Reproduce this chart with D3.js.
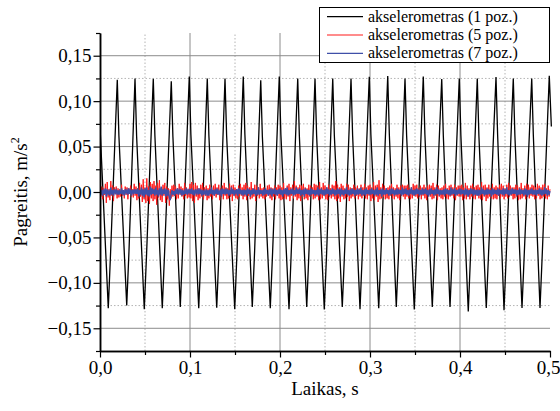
<!DOCTYPE html>
<html>
<head>
<meta charset="utf-8">
<script src="https://cdn.jsdelivr.net/npm/d3@7"></script>
<style>
  body { margin: 0; background: #fff; }
  svg text { font-family: 'Liberation Serif', 'Times New Roman', Times, serif; }
</style>
</head>
<body>
<div id="chart"></div>
<script>
// series names (legend)
var seriesNames = ["akselerometras (1 poz.)", "akselerometras (5 poz.)", "akselerometras (7 poz.)"];
var seriesColors = ["#000000", "#ff1a1a", "#3f4fa8"];

// position 1: [time s, acceleration m/s2] (troughs, knees, peaks, shoulders)
var black = [
  [0.0000, 0.072],
  [0.0092, -0.128], [0.0118, -0.066], [0.0192, 0.1235], [0.0210, 0.062],
  [0.0297, -0.125], [0.0322, -0.065], [0.0389, 0.125], [0.0407, 0.061],
  [0.0492, -0.129], [0.0518, -0.067], [0.0592, 0.1246], [0.0610, 0.062],
  [0.0692, -0.128], [0.0718, -0.066], [0.0792, 0.122], [0.0810, 0.061],
  [0.0892, -0.1265], [0.0917, -0.065], [0.0992, 0.127], [0.1010, 0.063],
  [0.1097, -0.128], [0.1122, -0.066], [0.1192, 0.125], [0.1210, 0.062],
  [0.1297, -0.1275], [0.1322, -0.066], [0.1389, 0.125], [0.1407, 0.062],
  [0.1497, -0.129], [0.1522, -0.067], [0.1592, 0.127], [0.1610, 0.063],
  [0.1692, -0.1265], [0.1718, -0.065], [0.1786, 0.123], [0.1804, 0.061],
  [0.1892, -0.128], [0.1918, -0.066], [0.1992, 0.127], [0.2010, 0.063],
  [0.2100, -0.129], [0.2125, -0.066], [0.2197, 0.125], [0.2215, 0.062],
  [0.2297, -0.1265], [0.2322, -0.065], [0.2389, 0.125], [0.2407, 0.062],
  [0.2492, -0.1294], [0.2518, -0.067], [0.2586, 0.125], [0.2604, 0.062],
  [0.2692, -0.1265], [0.2718, -0.065], [0.2789, 0.125], [0.2807, 0.062],
  [0.2889, -0.129], [0.2915, -0.066], [0.2992, 0.1268], [0.3010, 0.063],
  [0.3097, -0.128], [0.3122, -0.066], [0.3197, 0.1276], [0.3215, 0.063],
  [0.3292, -0.1265], [0.3318, -0.065], [0.3389, 0.125], [0.3407, 0.062],
  [0.3492, -0.1294], [0.3518, -0.067], [0.3592, 0.1272], [0.3610, 0.063],
  [0.3692, -0.1265], [0.3718, -0.065], [0.3797, 0.1243], [0.3815, 0.061],
  [0.3889, -0.1265], [0.3915, -0.065], [0.3992, 0.125], [0.4010, 0.062],
  [0.4092, -0.1316], [0.4118, -0.067], [0.4192, 0.125], [0.4210, 0.062],
  [0.4292, -0.1276], [0.4318, -0.066], [0.4400, 0.1265], [0.4418, 0.063],
  [0.4489, -0.130], [0.4515, -0.067], [0.4592, 0.125], [0.4610, 0.062],
  [0.4689, -0.1276], [0.4715, -0.066], [0.4797, 0.125], [0.4815, 0.062],
  [0.4889, -0.1276], [0.4915, -0.066], [0.4992, 0.128], [0.5015, 0.072]
];

// positions 5 and 7: one sample per ms, values in 10^-3 m/s2
var sampleStep = 0.001;
var red = [
  2,-5,6,-8,4,-3,9,-12,11,-6,3,-9,12,-4,7,-10,5,-2,6,-7,
  4,-6,3,-5,8,-4,2,-7,6,-3,5,-8,4,-2,7,-5,3,-6,9,-4,
  6,-9,4,-7,10,-5,8,-11,14,-8,5,-12,15,-10,6,-13,11,-7,9,-10,
  12,-8,7,-14,10,-6,13,-9,5,-11,8,-4,10,-12,6,-8,4,-15,3,-7,
  7,-5,8,-4,6,-8,4,-7,9,-3,6,-5,4,-8,10,-4,5,-7,3,-6,
  9,-7,11,-10,8,-12,10,-5,7,-9,4,-7,8,-5,10,-8,5,-4,7,-9,
  4,-7,8,-5,3,-8,7,-4,9,-6,5,-3,8,-9,4,-5,7,-8,10,-4,
  5,-8,4,-7,9,-5,7,-10,8,-4,5,-7,3,-8,7,-5,9,-4,5,-8,
  8,-5,10,-9,7,-4,5,-8,11,-7,4,-5,8,-10,7,-4,5,-7,9,-5,
  4,-7,5,-8,3,-5,7,-4,8,-7,5,-9,4,-5,7,-8,5,-4,8,-7,
  7,-9,5,-8,10,-7,4,-8,7,-5,9,-10,5,-4,8,-7,12,-5,7,-9,
  5,-7,8,-10,7,-4,9,-8,5,-7,4,-9,8,-5,7,-4,5,-8,9,-7,
  8,-5,7,-9,11,-8,5,-7,10,-4,7,-8,5,-9,8,-5,4,-7,8,-5,
  7,-8,12,-10,8,-7,5,-11,9,-5,7,-8,4,-7,9,-5,8,-10,5,-7,
  4,-5,8,-7,5,-4,7,-8,4,-5,8,-7,5,-4,9,-7,5,-8,7,-4,
  8,-10,5,-7,11,-9,7,-5,8,-11,13,-8,5,-7,9,-5,7,-8,4,-7,
  5,-8,7,-4,9,-7,5,-8,4,-5,8,-7,5,-9,7,-4,8,-5,7,-8,
  7,-5,8,-7,4,-8,5,-7,9,-4,7,-5,8,-7,4,-5,7,-8,5,-4,
  8,-7,5,-9,7,-4,8,-5,7,-8,10,-7,5,-4,8,-9,7,-5,4,-7,
  5,-8,7,-5,9,-7,4,-8,7,-5,8,-4,5,-7,8,-9,5,-4,7,-5,
  7,-5,8,-9,5,-7,10,-8,7,-5,4,-8,7,-5,9,-7,5,-8,7,-4,
  8,-7,5,-8,11,-9,7,-5,8,-10,5,-7,8,-5,4,-7,9,-8,5,-7,
  7,-8,5,-4,8,-7,9,-5,7,-8,4,-5,8,-7,10,-5,7,-4,5,-8,
  5,-7,8,-5,7,-9,5,-8,10,-7,4,-5,7,-8,9,-5,8,-7,5,-4,
  8,-5,7,-8,5,-7,9,-4,7,-8,5,-7,8,-5,9,-7,4,-8,7,-5,
  3
];
var blue = [
  1,-3,2,-4,3,-2,4,-5,3,-2,1,-4,5,-3,2,-4,3,-1,2,-3,
  2,-3,1,-2,4,-3,2,-4,3,-1,2,-3,4,-2,3,-4,2,-1,3,-2,
  3,-2,4,-5,2,-3,5,-4,3,-6,4,-3,5,-4,2,-5,6,-3,4,-2,
  3,-4,5,-3,2,-5,4,-3,6,-4,3,-2,4,-5,3,-4,2,-6,-9,-3,
  2,-3,1,-4,3,-2,4,-3,2,-1,3,-4,2,-3,1,-2,4,-3,2,-1,
  3,-2,4,-3,2,-4,3,-1,2,-3,4,-2,3,-4,2,-3,1,-2,3,-4,
  2,-4,3,-2,5,-3,2,-4,3,-2,4,-3,1,-2,3,-5,4,-2,3,-3,
  4,-2,3,-4,2,-3,5,-2,3,-4,2,-1,3,-4,4,-2,3,-3,2,-4,
  3,-3,2,-4,4,-2,3,-5,2,-3,4,-2,3,-4,2,-3,5,-3,2,-2,
  2,-4,3,-3,4,-2,2,-4,3,-3,4,-5,3,-2,4,-3,2,-4,3,-2,
  4,-3,2,-5,3,-2,4,-3,5,-4,2,-3,3,-2,4,-4,2,-3,5,-2,
  3,-2,4,-4,2,-3,3,-5,4,-2,3,-3,2,-4,4,-3,3,-2,2,-4,
  2,-3,5,-4,3,-2,4,-3,2,-4,3,-3,5,-2,3,-4,2,-3,4,-2,
  3,-4,2,-3,4,-2,3,-5,4,-3,2,-4,3,-2,5,-3,2,-4,3,-3,
  4,-2,3,-4,2,-3,4,-3,3,-2,5,-4,2,-3,3,-4,4,-2,2,-3,
  3,-3,4,-2,2,-4,3,-3,5,-4,2,-2,3,-5,4,-3,2,-3,4,-2,
  2,-4,3,-3,4,-2,3,-4,2,-3,4,-3,3,-2,2,-4,5,-3,3,-2,
  4,-3,2,-4,3,-2,5,-3,2,-4,3,-3,4,-2,3,-4,2,-3,4,-3,
  3,-2,4,-3,2,-5,3,-3,4,-2,2,-4,3,-3,5,-2,3,-4,2,-3,
  2,-3,3,-4,4,-2,3,-3,2,-4,5,-3,3,-2,4,-4,2,-3,3,-2,
  4,-3,3,-2,2,-4,4,-3,3,-5,2,-3,4,-2,3,-4,3,-3,2,-4,
  3,-4,2,-3,5,-2,3,-4,2,-3,4,-3,3,-2,2,-5,4,-3,3,-2,
  2,-3,4,-4,3,-2,2,-3,4,-4,3,-2,5,-3,2,-4,3,-3,4,-2,
  3,-2,3,-4,2,-3,4,-3,3,-2,2,-4,4,-3,3,-5,2,-3,3,-2,
  4,-3,2,-3,3,-4,2,-2,4,-3,3,-4,2,-3,5,-2,3,-4,2,-3,
  1
];

// axis ticks
var xMajor = [0, 0.1, 0.2, 0.3, 0.4, 0.5];
var xMinor = [0.05, 0.15, 0.25, 0.35, 0.45];
var yMajor = [-0.15, -0.10, -0.05, 0, 0.05, 0.10, 0.15];
var yMinor = [-0.175, -0.125, -0.075, -0.025, 0.025, 0.075, 0.125, 0.175];

var serifFont = "'Liberation Serif', 'Times New Roman', Times, serif";

var w = 560;
var h = 411;
var margin = {top: 33, right: 10, bottom: 60, left: 100};

var svg = d3.select('#chart')
  .append('svg')
    .attr('width', w)
    .attr('height', h)
    .style('display', 'block');

var x = d3.scaleLinear().domain([0, 0.5]).range([margin.left, w - margin.right]);
var y = d3.scaleLinear().domain([-0.175, 0.175]).range([h - margin.bottom, margin.top]);

var lt = d3.formatLocale({decimal: ",", thousands: " ", grouping: [3], currency: ["", ""], minus: "\u2212"});
var fx = lt.format(".1f");
var fy = lt.format(".2f");

// grid: minor dotted first, then major solid
var grid = svg.append('g').attr('class', 'grid');
grid.selectAll('.gx-minor').data(xMinor).enter().append('line')
  .attr('x1', d => x(d)).attr('x2', d => x(d))
  .attr('y1', y(-0.175)).attr('y2', y(0.175))
  .attr('stroke', '#b4b4b4').attr('stroke-width', 1).attr('stroke-dasharray', '1.5,2');
grid.selectAll('.gy-minor').data(yMinor.filter(d => Math.abs(d) < 0.17)).enter().append('line')
  .attr('x1', x(0)).attr('x2', x(0.5))
  .attr('y1', d => y(d)).attr('y2', d => y(d))
  .attr('stroke', '#b4b4b4').attr('stroke-width', 1).attr('stroke-dasharray', '1.5,2');
grid.selectAll('.gx-major').data(xMajor.filter(d => d > 0 && d < 0.5)).enter().append('line')
  .attr('x1', d => x(d)).attr('x2', d => x(d))
  .attr('y1', y(-0.175)).attr('y2', y(0.175))
  .attr('stroke', '#8c8c8c').attr('stroke-width', 1);
grid.selectAll('.gy-major').data(yMajor).enter().append('line')
  .attr('x1', x(0)).attr('x2', x(0.5))
  .attr('y1', d => y(d)).attr('y2', d => y(d))
  .attr('stroke', '#8c8c8c').attr('stroke-width', 1);

// clip for the data lines
svg.append('clipPath').attr('id', 'plot-clip')
  .append('rect')
    .attr('x', x(0))
    .attr('y', y(0.175))
    .attr('width', x(0.5) - x(0) + 2)
    .attr('height', y(-0.175) - y(0.175));

var plot = svg.append('g').attr('clip-path', 'url(#plot-clip)');

var lineBlack = d3.line().x(d => x(d[0])).y(d => y(d[1]));
var lineNoise = d3.line().x((d, i) => x(i * sampleStep)).y(d => y(d / 1000));

plot.append('path').datum(black)
  .attr('d', lineBlack)
  .attr('fill', 'none').attr('stroke', seriesColors[0]).attr('stroke-width', 1.3);
plot.append('path').datum(red)
  .attr('d', lineNoise)
  .attr('fill', 'none').attr('stroke', seriesColors[1]).attr('stroke-width', 1);
plot.append('path').datum(blue)
  .attr('d', lineNoise)
  .attr('fill', 'none').attr('stroke', seriesColors[2]).attr('stroke-width', 1.4);

// axes
svg.append('g')
  .attr('transform', 'translate(' + x(0) + ',0)')
  .call(d3.axisLeft(y).tickValues(yMajor).tickFormat(fy).tickSize(6.5).tickPadding(2).tickSizeOuter(0));
svg.append('g')
  .attr('transform', 'translate(' + x(0) + ',0)')
  .call(d3.axisLeft(y).tickValues(yMinor).tickFormat('').tickSize(4).tickSizeOuter(0));

var xAxis = svg.append('g')
  .attr('transform', 'translate(0,' + y(-0.175) + ')')
  .call(d3.axisBottom(x).tickValues(xMajor).tickFormat(fx).tickSize(6.5).tickPadding(3.3).tickSizeOuter(0));
svg.append('g')
  .attr('transform', 'translate(0,' + y(-0.175) + ')')
  .call(d3.axisBottom(x).tickValues(xMinor).tickFormat('').tickSize(4).tickSizeOuter(0));

svg.selectAll('.domain').attr('stroke', '#000').attr('stroke-width', 1.5);
svg.selectAll('.tick line').attr('stroke', '#000').attr('stroke-width', 1.2);
svg.selectAll('.tick text')
  .style('font-family', serifFont)
  .style('font-size', '19px')
  .attr('fill', '#000');

// last x label sits against the page edge, nudge it inside
xAxis.selectAll('.tick text').filter(d => d === 0.5).attr('dx', -2);

// axis titles
svg.append('text')
  .attr('transform', 'translate(27,' + y(0) + ') rotate(-90)')
  .attr('text-anchor', 'middle')
  .style('font-family', serifFont)
  .style('font-size', '19px')
  .html('Pagreitis, m/s<tspan font-size="12" dy="-8">2</tspan>');

svg.append('text')
  .attr('x', (x(0) + x(0.5)) / 2)
  .attr('y', 395)
  .attr('text-anchor', 'middle')
  .style('font-family', serifFont)
  .style('font-size', '19px')
  .text('Laikas, s');

// legend
var legend = svg.append('g').attr('class', 'legend');
legend.append('rect')
  .attr('x', 319.5).attr('y', 7.5)
  .attr('width', 230).attr('height', 55)
  .attr('fill', '#fff').attr('stroke', '#000').attr('stroke-width', 1);

var legendRow = legend.selectAll('.legend-row')
  .data(seriesNames)
  .enter()
  .append('g')
    .attr('class', 'legend-row')
    .attr('transform', function(d, i) {
      return 'translate(0,' + (16.7 + i * 18.3) + ')';
    });

legendRow.append('line')
  .attr('x1', 327).attr('x2', 363)
  .attr('y1', 0).attr('y2', 0)
  .attr('stroke', (d, i) => seriesColors[i])
  .attr('stroke-width', 1.2);

legendRow.append('text')
  .attr('x', 368)
  .attr('y', 5)
  .style('font-family', serifFont)
  .style('font-size', '16px')
  .text(d => d);
</script>
</body>
</html>
